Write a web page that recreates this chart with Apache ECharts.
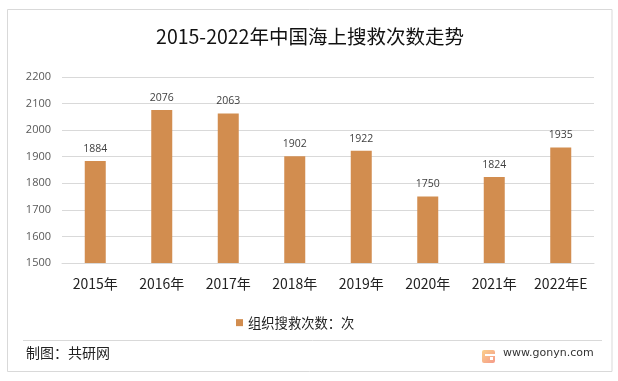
<!DOCTYPE html>
<html><head><meta charset="utf-8">
<style>html,body{margin:0;padding:0;background:#fff}#c{width:618px;height:381px}</style>
<script src="https://cdn.jsdelivr.net/npm/echarts@6/dist/echarts.min.js"></script>
</head><body><div id="c"></div>
<script>
const categories = ['2015年','2016年','2017年','2018年','2019年','2020年','2021年','2022年E'];
const values = [1884,2076,2063,1902,1922,1750,1824,1935];
const seriesName = '组织搜救次数：次';
const titleText = '2015-2022年中国海上搜救次数走势';
const sourceText = '制图：共研网';
const siteText = 'www.gonyn.com';
const font = '"Noto Sans CJK SC","Liberation Sans",sans-serif';
const latin = '"Open Sans","Noto Sans CJK SC",sans-serif';
const chart = echarts.init(document.getElementById('c'), null, {renderer:'canvas'});
chart.setOption({
  animation:false,
  backgroundColor:'#fff',
  title:{text:titleText,left:305,top:22,textAlign:'center',
    textStyle:{fontFamily:font,fontSize:19.5,fontWeight:'normal',color:'#111'}},
  grid:{left:62,right:24,top:77,height:186,containLabel:false},
  legend:{show:true,top:311,left:231,itemWidth:7,itemHeight:7,itemGap:4,icon:'rect',
    textStyle:{fontFamily:font,fontSize:13.3,color:'#222'},data:[seriesName]},
  xAxis:{type:'category',data:categories,
    axisTick:{show:false},
    axisLine:{lineStyle:{color:'#d9d9d9',width:1}},
    axisLabel:{fontFamily:font,fontSize:14,color:'#222',margin:14,interval:0}},
  yAxis:{type:'value',min:1500,max:2200,interval:100,
    axisLine:{show:false},axisTick:{show:false},
    splitLine:{lineStyle:{color:'#d9d9d9',width:1}},
    axisLabel:{fontFamily:latin,fontSize:11,color:'#595959',margin:11,formatter:function(v){return String(v);}}},
  series:[{name:seriesName,type:'bar',data:values,barWidth:21,
    itemStyle:{color:'#d28d4f'},
    label:{show:true,position:'top',distance:7,fontFamily:latin,fontSize:10.5,color:'#404040'}}],
  graphic:[
    {type:'rect',silent:true,shape:{x:7.5,y:9.5,width:604.5,height:362},
      style:{fill:'none',stroke:'#d9d9d9',lineWidth:1},z:-1},
    {type:'line',silent:true,shape:{x1:23,y1:340.5,x2:602,y2:340.5},style:{stroke:'#d9d9d9',lineWidth:1}},
    {type:'text',left:26,top:346,style:{text:sourceText,fontFamily:font,fontSize:14,fill:'#222'}},
    {type:'text',left:503,top:348,style:{text:siteText,fontFamily:'"DejaVu Sans",sans-serif',fontSize:11,fill:'#333'}},
    {type:'rect',silent:true,shape:{x:482,y:350,width:13,height:13,r:2},
      style:{fill:new echarts.graphic.LinearGradient(0,0,1,1,[{offset:0,color:'#fbd08a'},{offset:1,color:'#f59a8a'}])}},
    {type:'rect',silent:true,shape:{x:485,y:354,width:10,height:2},style:{fill:'#fff'}},
    {type:'rect',silent:true,shape:{x:490,y:357,width:3,height:3},style:{fill:'#fff'}}
  ]
});
</script></body></html>
